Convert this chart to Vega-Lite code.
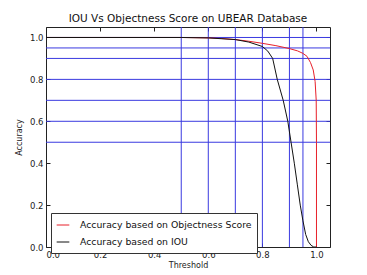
{
  "$schema": "https://vega.github.io/schema/vega-lite/v6.json",
  "width": 284,
  "height": 220,
  "autosize": "none",
  "padding": {"left": 46, "top": 27, "right": 37, "bottom": 28},
  "background": "white",
  "config": {"font": "DejaVu Sans", "view": {"stroke": "#222", "strokeWidth": 1}},
  "title": {"text": "IOU Vs Objectness Score on UBEAR Database", "fontSize": 10.5, "fontWeight": "normal", "font": "DejaVu Sans", "color": "#111", "offset": 2},
  "datasets": {
    "curves": [
      {"series": "Accuracy based on Objectness Score", "i": 0, "t": 0.0, "acc": 1.0},
      {"series": "Accuracy based on Objectness Score", "i": 1, "t": 0.5, "acc": 1.0},
      {"series": "Accuracy based on Objectness Score", "i": 2, "t": 0.6, "acc": 0.998},
      {"series": "Accuracy based on Objectness Score", "i": 3, "t": 0.65, "acc": 0.995},
      {"series": "Accuracy based on Objectness Score", "i": 4, "t": 0.7, "acc": 0.99},
      {"series": "Accuracy based on Objectness Score", "i": 5, "t": 0.75, "acc": 0.982},
      {"series": "Accuracy based on Objectness Score", "i": 6, "t": 0.8, "acc": 0.972},
      {"series": "Accuracy based on Objectness Score", "i": 7, "t": 0.85, "acc": 0.961},
      {"series": "Accuracy based on Objectness Score", "i": 8, "t": 0.9, "acc": 0.947},
      {"series": "Accuracy based on Objectness Score", "i": 9, "t": 0.93, "acc": 0.936},
      {"series": "Accuracy based on Objectness Score", "i": 10, "t": 0.95, "acc": 0.924},
      {"series": "Accuracy based on Objectness Score", "i": 11, "t": 0.965, "acc": 0.91},
      {"series": "Accuracy based on Objectness Score", "i": 12, "t": 0.978, "acc": 0.88},
      {"series": "Accuracy based on Objectness Score", "i": 13, "t": 0.988, "acc": 0.845},
      {"series": "Accuracy based on Objectness Score", "i": 14, "t": 0.995, "acc": 0.79},
      {"series": "Accuracy based on Objectness Score", "i": 15, "t": 0.999, "acc": 0.7},
      {"series": "Accuracy based on Objectness Score", "i": 16, "t": 1.0, "acc": 0.5},
      {"series": "Accuracy based on Objectness Score", "i": 17, "t": 1.0, "acc": 0.0},
      {"series": "Accuracy based on IOU", "i": 0, "t": 0.0, "acc": 1.0},
      {"series": "Accuracy based on IOU", "i": 1, "t": 0.5, "acc": 1.0},
      {"series": "Accuracy based on IOU", "i": 2, "t": 0.6, "acc": 0.998},
      {"series": "Accuracy based on IOU", "i": 3, "t": 0.7, "acc": 0.99},
      {"series": "Accuracy based on IOU", "i": 4, "t": 0.75, "acc": 0.978},
      {"series": "Accuracy based on IOU", "i": 5, "t": 0.8, "acc": 0.957},
      {"series": "Accuracy based on IOU", "i": 6, "t": 0.82, "acc": 0.935},
      {"series": "Accuracy based on IOU", "i": 7, "t": 0.838, "acc": 0.9},
      {"series": "Accuracy based on IOU", "i": 8, "t": 0.855, "acc": 0.8},
      {"series": "Accuracy based on IOU", "i": 9, "t": 0.877, "acc": 0.7},
      {"series": "Accuracy based on IOU", "i": 10, "t": 0.894, "acc": 0.6},
      {"series": "Accuracy based on IOU", "i": 11, "t": 0.906, "acc": 0.5},
      {"series": "Accuracy based on IOU", "i": 12, "t": 0.918, "acc": 0.4},
      {"series": "Accuracy based on IOU", "i": 13, "t": 0.929, "acc": 0.3},
      {"series": "Accuracy based on IOU", "i": 14, "t": 0.94, "acc": 0.2},
      {"series": "Accuracy based on IOU", "i": 15, "t": 0.95, "acc": 0.125},
      {"series": "Accuracy based on IOU", "i": 16, "t": 0.96, "acc": 0.06},
      {"series": "Accuracy based on IOU", "i": 17, "t": 0.97, "acc": 0.025},
      {"series": "Accuracy based on IOU", "i": 18, "t": 0.98, "acc": 0.008},
      {"series": "Accuracy based on IOU", "i": 19, "t": 0.99, "acc": 0.0},
      {"series": "Accuracy based on IOU", "i": 20, "t": 1.0, "acc": 0.0}
    ],
    "vlines": [{"v": 0.5}, {"v": 0.6}, {"v": 0.7}, {"v": 0.8}, {"v": 0.9}, {"v": 0.95}],
    "hlines": [{"v": 1.0}, {"v": 0.95}, {"v": 0.9}, {"v": 0.8}, {"v": 0.7}, {"v": 0.6}, {"v": 0.5}]
  },
  "resolve": {"axis": {"x": "independent", "y": "independent"}},
  "layer": [
    {
      "data": {"name": "vlines"},
      "mark": {"type": "rule", "color": "#3a3ae0", "strokeWidth": 1},
      "encoding": {
        "x": {"field": "v", "type": "quantitative", "scale": {"domain": [0, 1.05], "nice": false, "zero": false},
          "axis": {"orient": "bottom", "values": [0, 0.2, 0.4, 0.6, 0.8, 1.0], "format": ".1f", "title": "Threshold", "grid": false, "tickSize": -4, "tickColor": "#222", "domain": false, "labelPadding": 7, "labelFontSize": 8.5, "labelColor": "#222", "titleFontSize": 8, "titleFontWeight": "normal", "titleColor": "#222", "titlePadding": 3}}
      }
    },
    {
      "data": {"name": "hlines"},
      "mark": {"type": "rule", "color": "#3a3ae0", "strokeWidth": 1},
      "encoding": {
        "y": {"field": "v", "type": "quantitative", "scale": {"domain": [0, 1.05], "nice": false, "zero": false},
          "axis": {"orient": "left", "values": [0, 0.2, 0.4, 0.6, 0.8, 1.0], "format": ".1f", "title": "Accuracy", "grid": false, "tickSize": -4, "tickColor": "#222", "domain": false, "labelPadding": 7, "labelFontSize": 8.5, "labelColor": "#222", "titleFontSize": 8, "titleFontWeight": "normal", "titleColor": "#222", "titlePadding": 6}}
      }
    },
    {
      "data": {"name": "curves"},
      "mark": {"type": "point", "opacity": 0},
      "encoding": {
        "x": {"field": "t", "type": "quantitative", "axis": {"orient": "top", "values": [0, 0.2, 0.4, 0.6, 0.8, 1.0], "labels": false, "title": null, "grid": false, "tickSize": -4, "tickColor": "#222", "domain": false}},
        "y": {"field": "acc", "type": "quantitative", "axis": {"orient": "right", "values": [0, 0.2, 0.4, 0.6, 0.8, 1.0], "labels": false, "title": null, "grid": false, "tickSize": -4, "tickColor": "#222", "domain": false}}
      }
    },
    {
      "data": {"name": "curves"},
      "mark": {"type": "line", "strokeWidth": 1, "clip": true},
      "encoding": {
        "x": {"field": "t", "type": "quantitative", "axis": null},
        "y": {"field": "acc", "type": "quantitative", "axis": null},
        "order": {"field": "i", "type": "quantitative"},
        "color": {"field": "series", "type": "nominal",
          "scale": {"domain": ["Accuracy based on Objectness Score", "Accuracy based on IOU"], "range": ["#e8202a", "#111111"]},
          "legend": {"title": null, "orient": "none", "legendX": 5, "legendY": 186, "symbolType": "stroke", "symbolSize": 160, "symbolStrokeWidth": 1, "labelFontSize": 9.3, "labelLimit": 0, "labelColor": "#111", "labelOffset": 10, "strokeColor": "#333", "fillColor": "white", "padding": 5, "rowPadding": 4, "cornerRadius": 0}}
      }
    }
  ]
}
